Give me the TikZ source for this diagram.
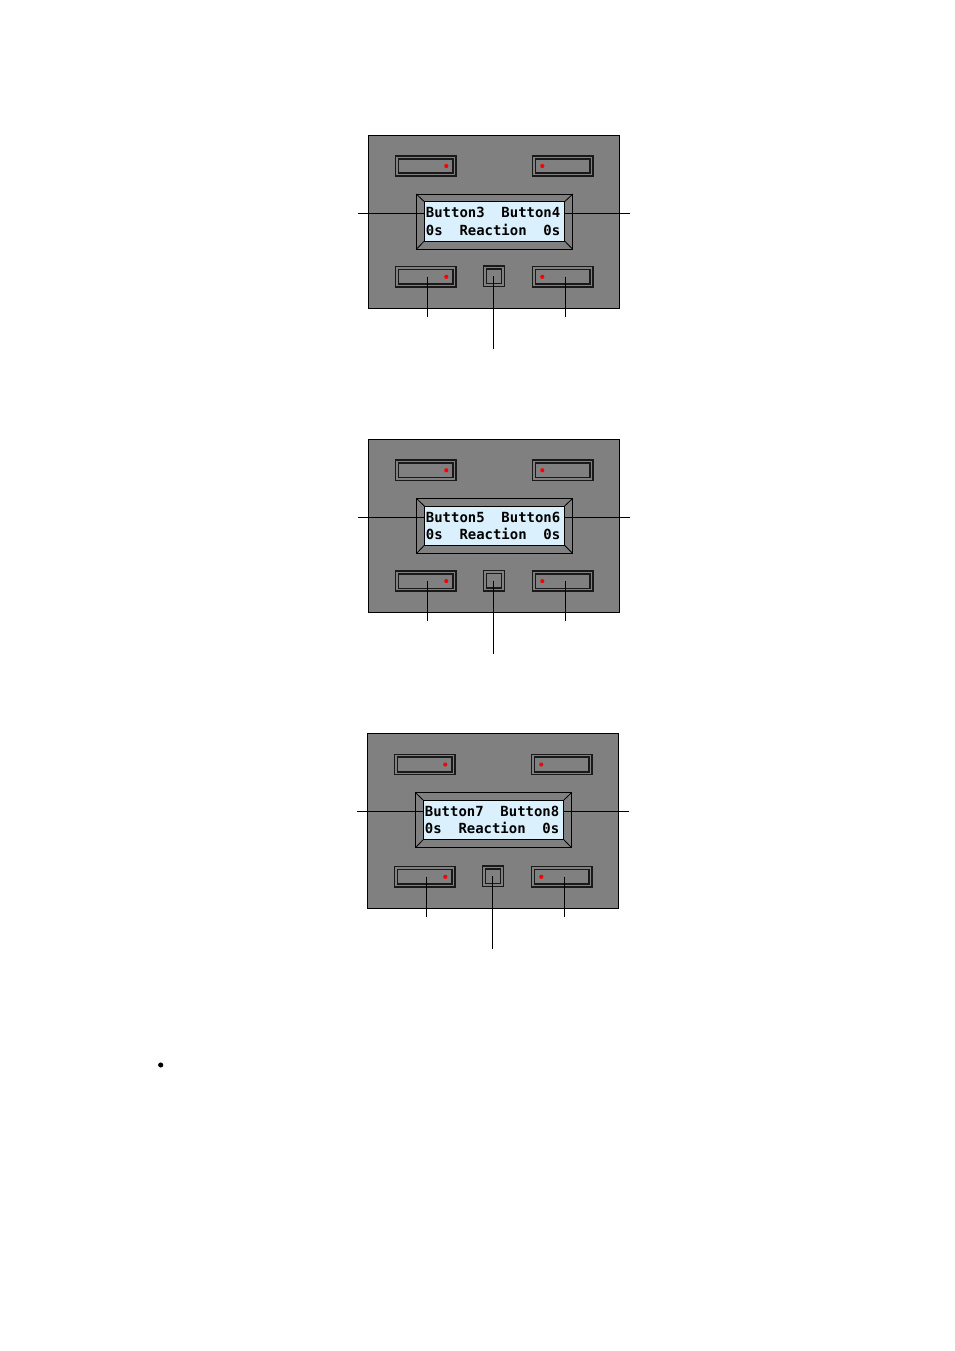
\documentclass[tikz,border=0pt]{standalone}
\usepackage{fontspec}
\newfontfamily\lcdfont{DejaVu Sans Mono}
\definecolor{panelgray}{RGB}{128,128,128}
\definecolor{lcdblue}{RGB}{218,240,252}
\tikzset{
  panelbox/.style={draw=black, fill=panelgray, line width=0.6pt, inner sep=0pt, outer sep=0pt, anchor=north west},
  btn/.style={draw=black!90, double=panelgray, double distance=0.8pt, line width=1.0pt, fill=panelgray,
              inner sep=0pt, outer sep=0pt, minimum width=35.9pt, minimum height=10.9pt},
  smallbtn/.style={btn, minimum width=11.35pt},
  bezelbox/.style={draw=black, fill=panelgray, line width=0.6pt, inner sep=0pt, outer sep=0pt,
              minimum width=97.6pt, minimum height=34.5pt},
  lcdbox/.style={draw=black, fill=lcdblue, line width=0.6pt, inner sep=0pt, outer sep=0pt,
              minimum width=87.5pt, minimum height=24.5pt},
  bevel/.style={draw=black, line width=0.5pt},
  lcdtext/.style={anchor=base west, inner sep=0pt, font=\lcdfont\bfseries\fontsize{8.7pt}{10pt}\selectfont},
  ledot/.style={fill=red, draw=none},
  conn/.style={draw=black, line width=0.6pt},
}
\newcommand\lcdpanel[6]{%
  % #1 name, #2 x, #3 y, #4 line 1, #5 line 2, #6 extra offset of bottom row
  \begin{scope}[shift={(#2,#3)}]
    \node[panelbox, minimum width=156.6pt, minimum height={(173+#6)*0.6238pt}] (#1p) at (0,0) {};
    \node[btn] (#1tl) at (57.5,31) {};
    \node[btn] (#1tr) at (194.5,31) {};
    \node[btn] (#1bl) at (57.5,{141.7+#6}) {};
    \node[btn] (#1br) at (194.5,{141.7+#6}) {};
    \node[smallbtn] (#1bc) at (125.7,{141.3+#6}) {};
    \fill[ledot] (78,31) circle (2.1);
    \fill[ledot] (174,31) circle (2.1);
    \fill[ledot] (78,{141.8+#6}) circle (2.1);
    \fill[ledot] (174,{141.8+#6}) circle (2.1);
    \node[bezelbox] (#1bz) at (126.25,86.65) {};
    \node[lcdbox] (#1lcd) at (126.15,86.35) {};
    \draw[bevel] (#1bz.north west) -- (#1lcd.north west);
    \draw[bevel] (#1bz.north east) -- (#1lcd.north east);
    \draw[bevel] (#1bz.south west) -- (#1lcd.south west);
    \draw[bevel] (#1bz.south east) -- (#1lcd.south east);
    \node[lcdtext] (#1t1) at (57.3,82.7) {#4};
    \node[lcdtext] (#1t2) at (57.3,100.3) {#5};
    \coordinate (#1cl) at (-10,78);
    \coordinate (#1cr) at (261.5,78);
    \draw[conn] (#1cl) -- (#1cl -| #1lcd.west);
    \draw[conn] (#1lcd.east |- #1cr) -- (#1cr);
    \coordinate (#1dl) at (58.7,{181.7+#6});
    \coordinate (#1dc) at (125.3,{214.3+#6});
    \coordinate (#1dr) at (197.2,{181.7+#6});
    \draw[conn] (#1dl |- #1bl.center) -- (#1dl);
    \draw[conn] (#1dc |- #1bc.center) -- (#1dc);
    \draw[conn] (#1dr |- #1br.center) -- (#1dr);
  \end{scope}}
\begin{document}
\begin{tikzpicture}[x=0.6238pt, y=-0.6238pt]
  \useasboundingbox[fill=white] (0,0) rectangle (954,1351);
  \lcdpanel{a}{368.3}{135}{Button3~~Button4}{0s~~Reaction~~0s}{0}
  \lcdpanel{b}{368.3}{439.3}{Button5~~Button6}{0s~~Reaction~~0s}{0}
  \lcdpanel{c}{367.3}{733.5}{Button7~~Button8}{0s~~Reaction~~0s}{1.5}
  \node[circle, fill=black, inner sep=0pt, minimum size=3.2pt] (bullet) at (160.7,1065) {};
\end{tikzpicture}
\end{document}
